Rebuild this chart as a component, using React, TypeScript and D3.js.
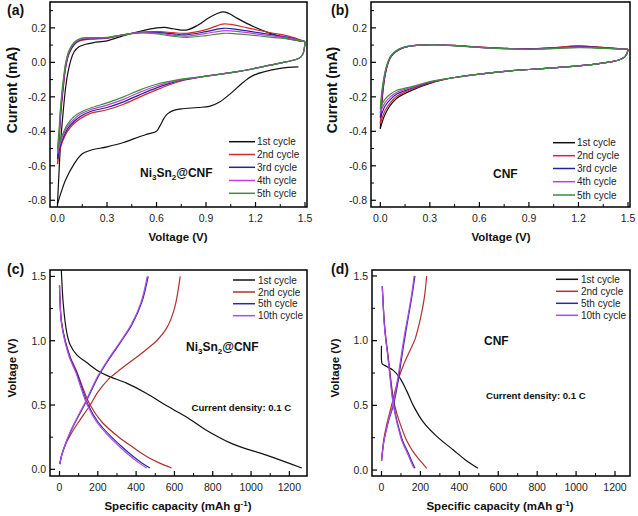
import React from "react";
import * as d3 from "d3";

const FONT = "'Liberation Sans', Arial, Helvetica, sans-serif";

// ---------------- Panel (a): CV of Ni3Sn2@CNF ----------------
const A_RED1_V = [1.46, 1.35, 1.19, 1.13, 1.05, 0.985, 0.92, 0.85, 0.75, 0.7, 0.68, 0.66, 0.645, 0.62, 0.6, 0.55, 0.5, 0.4, 0.3, 0.2, 0.15, 0.1, 0.05, 0.02, 0.0];
const A_RED1_I = [-0.026, -0.035, -0.074, -0.112, -0.18, -0.228, -0.255, -0.262, -0.27, -0.28, -0.29, -0.305, -0.325, -0.37, -0.4, -0.415, -0.43, -0.465, -0.49, -0.51, -0.53, -0.59, -0.68, -0.76, -0.82];
const A_OX1_V = [0.0, 0.01, 0.02, 0.035, 0.05, 0.065, 0.08, 0.1, 0.13, 0.17, 0.22, 0.3, 0.4, 0.5, 0.6, 0.65, 0.7, 0.78, 0.85, 0.92, 1.0, 1.04, 1.09, 1.19, 1.29, 1.39, 1.5];
const A_OX1_I = [-0.82, -0.62, -0.45, -0.28, -0.14, -0.05, 0.01, 0.06, 0.09, 0.105, 0.115, 0.125, 0.155, 0.18, 0.2, 0.203, 0.195, 0.187, 0.215, 0.26, 0.293, 0.283, 0.255, 0.206, 0.168, 0.139, 0.12];

const A_RED_V = [1.5, 1.497, 1.49, 1.475, 1.45, 1.39, 1.29, 1.09, 0.88, 0.75, 0.68, 0.6, 0.5, 0.4, 0.3, 0.2, 0.14, 0.1, 0.06, 0.03, 0.01, 0.0];
const A_RED2_I = [0.12, 0.09, 0.055, 0.032, 0.018, 0.004, -0.016, -0.054, -0.083, -0.108, -0.13, -0.16, -0.2, -0.243, -0.275, -0.296, -0.325, -0.355, -0.4, -0.46, -0.53, -0.59];
const A_RED3_I = [0.12, 0.09, 0.055, 0.032, 0.018, 0.004, -0.016, -0.054, -0.083, -0.104, -0.122, -0.148, -0.187, -0.229, -0.262, -0.285, -0.313, -0.343, -0.387, -0.447, -0.51, -0.56];
const A_RED4_I = [0.12, 0.09, 0.055, 0.032, 0.018, 0.004, -0.016, -0.054, -0.083, -0.1, -0.116, -0.137, -0.173, -0.215, -0.248, -0.275, -0.3, -0.33, -0.373, -0.433, -0.49, -0.53];
const A_RED5_I = [0.12, 0.09, 0.055, 0.032, 0.018, 0.004, -0.016, -0.054, -0.083, -0.097, -0.11, -0.127, -0.16, -0.2, -0.235, -0.265, -0.29, -0.315, -0.36, -0.42, -0.47, -0.5];

const A_OX_V = [0.0, 0.01, 0.02, 0.035, 0.05, 0.07, 0.1, 0.13, 0.17, 0.22, 0.3, 0.4, 0.5, 0.62, 0.7, 0.78, 0.9, 1.0, 1.05, 1.15, 1.3, 1.4, 1.5];
const A_OX2_I = [-0.59, -0.45, -0.3, -0.15, -0.03, 0.05, 0.1, 0.122, 0.132, 0.135, 0.14, 0.16, 0.175, 0.178, 0.172, 0.168, 0.19, 0.222, 0.22, 0.2, 0.17, 0.152, 0.12];
const A_OX3_I = [-0.56, -0.43, -0.28, -0.135, -0.02, 0.055, 0.105, 0.127, 0.136, 0.138, 0.142, 0.16, 0.173, 0.172, 0.165, 0.16, 0.178, 0.197, 0.196, 0.182, 0.16, 0.145, 0.12];
const A_OX4_I = [-0.53, -0.41, -0.26, -0.12, -0.01, 0.062, 0.11, 0.131, 0.14, 0.141, 0.143, 0.16, 0.172, 0.168, 0.158, 0.152, 0.168, 0.183, 0.182, 0.172, 0.153, 0.14, 0.12];
const A_OX5_I = [-0.5, -0.38, -0.24, -0.1, 0.0, 0.07, 0.115, 0.135, 0.143, 0.143, 0.145, 0.16, 0.17, 0.163, 0.152, 0.145, 0.155, 0.168, 0.168, 0.16, 0.145, 0.135, 0.12];

// ---------------- Panel (b): CV of CNF ----------------
const B_RED_V = [1.5, 1.495, 1.485, 1.47, 1.44, 1.4, 1.3, 1.2, 1.0, 0.8, 0.6, 0.45, 0.3, 0.2, 0.14, 0.1, 0.06, 0.03, 0.01, 0.0];
const B_RED1_I = [0.075, 0.055, 0.038, 0.025, 0.012, 0.004, -0.01, -0.02, -0.035, -0.048, -0.068, -0.088, -0.122, -0.158, -0.185, -0.208, -0.25, -0.3, -0.35, -0.385];
const B_RED2_I = [0.075, 0.055, 0.038, 0.025, 0.012, 0.004, -0.01, -0.02, -0.035, -0.048, -0.068, -0.088, -0.119, -0.152, -0.177, -0.197, -0.235, -0.278, -0.325, -0.355];
const B_RED3_I = [0.075, 0.055, 0.038, 0.025, 0.012, 0.004, -0.01, -0.02, -0.035, -0.048, -0.068, -0.088, -0.116, -0.146, -0.168, -0.184, -0.216, -0.252, -0.295, -0.32];
const B_RED4_I = [0.075, 0.055, 0.038, 0.025, 0.012, 0.004, -0.01, -0.02, -0.035, -0.048, -0.068, -0.088, -0.114, -0.142, -0.16, -0.173, -0.2, -0.232, -0.268, -0.295];
const B_RED5_I = [0.075, 0.055, 0.038, 0.025, 0.012, 0.004, -0.01, -0.02, -0.035, -0.048, -0.068, -0.088, -0.112, -0.138, -0.152, -0.162, -0.185, -0.212, -0.245, -0.27];

const B_OX_V = [0.0, 0.008, 0.018, 0.03, 0.045, 0.06, 0.08, 0.1, 0.13, 0.17, 0.24, 0.32, 0.45, 0.6, 0.75, 0.9, 1.05, 1.2, 1.3, 1.4, 1.5];
const B_OX1_I = [-0.385, -0.26, -0.15, -0.07, -0.01, 0.025, 0.05, 0.065, 0.08, 0.092, 0.1, 0.102, 0.098, 0.088, 0.081, 0.078, 0.085, 0.094, 0.09, 0.083, 0.075];
const B_OX2_I = [-0.355, -0.24, -0.14, -0.065, -0.008, 0.027, 0.052, 0.066, 0.081, 0.092, 0.1, 0.102, 0.098, 0.088, 0.081, 0.078, 0.085, 0.095, 0.09, 0.083, 0.075];
const B_OX3_I = [-0.32, -0.22, -0.13, -0.06, -0.005, 0.028, 0.053, 0.067, 0.082, 0.093, 0.1, 0.102, 0.097, 0.087, 0.08, 0.077, 0.083, 0.09, 0.087, 0.081, 0.075];
const B_OX4_I = [-0.295, -0.2, -0.12, -0.055, -0.002, 0.03, 0.054, 0.068, 0.083, 0.093, 0.1, 0.101, 0.097, 0.087, 0.08, 0.076, 0.081, 0.088, 0.085, 0.08, 0.075];
const B_OX5_I = [-0.27, -0.18, -0.11, -0.05, 0.0, 0.032, 0.055, 0.07, 0.084, 0.094, 0.1, 0.101, 0.096, 0.086, 0.079, 0.075, 0.079, 0.085, 0.083, 0.079, 0.075];

// ---------------- Panel (c): GCD of Ni3Sn2@CNF ----------------
const C_DIS1_Q = [8, 11, 20, 37, 55, 90, 142, 202, 255, 350, 455, 542, 600, 680, 760, 900, 1080, 1265];
const C_DIS1_V = [1.62, 1.5, 1.28, 1.07, 0.97, 0.89, 0.83, 0.765, 0.725, 0.67, 0.59, 0.51, 0.46, 0.39, 0.31, 0.2, 0.11, 0.01];
const C_DIS_V = [1.43, 1.3, 1.15, 1.0, 0.87, 0.75, 0.62, 0.5, 0.37, 0.25, 0.17, 0.1, 0.05, 0.01];
const C_DIS2_Q = [0, 3, 10, 30, 57, 93, 125, 160, 220, 310, 385, 455, 520, 585];
const C_DIS5_Q = [0, 3, 10, 29, 55, 90, 120, 150, 200, 272, 330, 385, 430, 472];
const C_DIS10_Q = [0, 3, 9, 27, 52, 86, 115, 145, 193, 262, 318, 372, 415, 455];
const C_CH2_Q = [2, 8, 20, 40, 70, 110, 160, 200, 255, 320, 400, 460, 507, 560, 600, 630];
const C_CH2_V = [0.04, 0.09, 0.15, 0.22, 0.3, 0.39, 0.5, 0.6, 0.7, 0.78, 0.87, 0.94, 1.0, 1.1, 1.25, 1.5];
const C_CH_V = [0.04, 0.09, 0.15, 0.23, 0.33, 0.43, 0.53, 0.72, 0.86, 0.99, 1.13, 1.3, 1.5];
const C_CH5_Q = [2, 8, 20, 40, 70, 105, 140, 202, 260, 320, 380, 430, 463];
const C_CH10_Q = [2, 8, 20, 39, 68, 102, 137, 198, 256, 316, 376, 426, 458];

// ---------------- Panel (d): GCD of CNF ----------------
const D_DIS1_Q = [0, 0.5, 4, 27, 61, 95, 130, 163, 215, 284, 369, 430, 496];
const D_DIS1_V = [0.96, 0.84, 0.82, 0.8, 0.77, 0.71, 0.61, 0.5, 0.37, 0.26, 0.155, 0.08, 0.013];
const D_DIS_V = [1.42, 1.3, 1.15, 1.02, 0.87, 0.7, 0.55, 0.43, 0.32, 0.22, 0.14, 0.07, 0.013];
const D_DIS2_Q = [4, 8, 14, 22, 35, 48, 61, 80, 105, 132, 163, 200, 232];
const D_DIS5_Q = [4, 8, 14, 22, 34, 46, 58, 72, 90, 110, 135, 155, 172];
const D_DIS10_Q = [4, 8, 13, 21, 33, 45, 56, 70, 87, 106, 130, 150, 167];
const D_CH_V = [0.07, 0.14, 0.22, 0.31, 0.4, 0.5, 0.64, 0.78, 0.93, 1.07, 1.2, 1.35, 1.5];
const D_CH5_Q = [0, 5, 12, 25, 40, 61, 80, 95, 110, 125, 140, 157, 172];
const D_CH10_Q = [0, 5, 12, 24, 38, 58, 76, 91, 106, 121, 137, 154, 168];
const D_CH2_Q = [0, 5, 12, 25, 40, 60, 86, 115, 145, 172, 200, 220, 232];
const D_CH2_V = [0.07, 0.15, 0.24, 0.34, 0.43, 0.55, 0.7, 0.82, 0.92, 1.01, 1.17, 1.33, 1.5];

// ---------------- ticks / labels ----------------
const CV_X_MAJ = [0, 0.3, 0.6, 0.9, 1.2, 1.5];
const CV_X_MIN = [0.15, 0.45, 0.75, 1.05, 1.35];
const CV_Y_MAJ = [-0.8, -0.6, -0.4, -0.2, 0.0, 0.2];
const CV_Y_MIN = [-0.7, -0.5, -0.3, -0.1, 0.1, 0.3];
const GC_X_MAJ = [0, 200, 400, 600, 800, 1000, 1200];
const GC_X_MIN = [100, 300, 500, 700, 900, 1100];
const GC_Y_MAJ = [0, 0.5, 1.0, 1.5];
const GC_Y_MIN = [0.25, 0.75, 1.25];
const CV_LEGEND = ["1st cycle", "2nd cycle", "3rd cycle", "4th cycle", "5th cycle"];
const GC_LEGEND = ["1st cycle", "2nd cycle", "5th cycle", "10th cycle"];

const CV_COLORS = ["#111111", "#d42a2a", "#22229c", "#c43ce0", "#3d8f3d"];
const GC_COLORS = ["#111111", "#b3302b", "#2b2b9e", "#b04ae8"];

type Curve = { x: number[]; y: number[]; color: string };

const f1 = (v: number) => (Math.abs(v) < 1e-9 ? "0.0" : v.toFixed(1));
const f0 = (v: number) => String(Math.round(v));

interface PanelProps {
  id: string;
  frame: [number, number, number, number];
  xd: [number, number];
  yd: [number, number];
  xMaj: number[];
  xMin: number[];
  yMaj: number[];
  yMin: number[];
  xFmt: (v: number) => string;
  yFmt: (v: number) => string;
  curves: Curve[];
  legend: { lx0: number; lx1: number; tx: number; ys: number[]; labels: string[]; colors: string[] };
  xLabOff: number;
}

function Panel(p: PanelProps) {
  const [x0, x1, y0, y1] = p.frame;
  const xs = d3.scaleLinear().domain(p.xd).range([x0, x1]);
  const ys = d3.scaleLinear().domain(p.yd).range([y1, y0]);
  const line = d3
    .line<[number, number]>()
    .x((d) => xs(d[0]))
    .y((d) => ys(d[1]))
    .curve(d3.curveCatmullRom.alpha(0.5));
  return (
    <g>
      <defs>
        <clipPath id={p.id}>
          <rect x={x0} y={y0} width={x1 - x0} height={y1 - y0} />
        </clipPath>
      </defs>
      <g clipPath={`url(#${p.id})`}>
        {p.curves.map((c, i) => (
          <path
            key={i}
            d={line(c.x.map((v, k) => [v, c.y[k]] as [number, number])) || ""}
            fill="none"
            stroke={c.color}
            strokeWidth={1.2}
            strokeLinejoin="round"
          />
        ))}
      </g>
      <rect x={x0} y={y0} width={x1 - x0} height={y1 - y0} fill="none" stroke="#000" strokeWidth={1.5} />
      {p.xMaj.map((v) => (
        <line key={"xM" + v} x1={xs(v)} x2={xs(v)} y1={y1} y2={y1 - 5} stroke="#000" strokeWidth={1.2} />
      ))}
      {p.xMin.map((v) => (
        <line key={"xm" + v} x1={xs(v)} x2={xs(v)} y1={y1} y2={y1 - 3} stroke="#000" strokeWidth={1} />
      ))}
      {p.yMaj.map((v) => (
        <line key={"yM" + v} x1={x0} x2={x0 + 5} y1={ys(v)} y2={ys(v)} stroke="#000" strokeWidth={1.2} />
      ))}
      {p.yMin.map((v) => (
        <line key={"ym" + v} x1={x0} x2={x0 + 3} y1={ys(v)} y2={ys(v)} stroke="#000" strokeWidth={1} />
      ))}
      {p.xMaj.map((v) => (
        <text key={"xt" + v} x={xs(v)} y={y1 + p.xLabOff} textAnchor="middle" fontSize={10.5} fontFamily={FONT} fill="#222">
          {p.xFmt(v)}
        </text>
      ))}
      {p.yMaj.map((v) => (
        <text key={"yt" + v} x={x0 - 4} y={ys(v)} dy="0.36em" textAnchor="end" fontSize={10.5} fontFamily={FONT} fill="#222">
          {p.yFmt(v)}
        </text>
      ))}
      {p.legend.labels.map((lab, i) => (
        <g key={"lg" + i}>
          <line x1={p.legend.lx0} x2={p.legend.lx1} y1={p.legend.ys[i]} y2={p.legend.ys[i]} stroke={p.legend.colors[i]} strokeWidth={1.5} />
          <text x={p.legend.tx} y={p.legend.ys[i]} dy="0.36em" fontSize={10} fontFamily={FONT} fill="#222">
            {lab}
          </text>
        </g>
      ))}
    </g>
  );
}

function mk(x: number[], y: number[], color: string): Curve {
  return { x, y, color };
}

export default function App() {
  const aCurves: Curve[] = [
    mk(A_RED1_V, A_RED1_I, CV_COLORS[0]),
    mk(A_OX1_V, A_OX1_I, CV_COLORS[0]),
    mk(A_RED_V, A_RED2_I, CV_COLORS[1]),
    mk(A_OX_V, A_OX2_I, CV_COLORS[1]),
    mk(A_RED_V, A_RED3_I, CV_COLORS[2]),
    mk(A_OX_V, A_OX3_I, CV_COLORS[2]),
    mk(A_RED_V, A_RED4_I, CV_COLORS[3]),
    mk(A_OX_V, A_OX4_I, CV_COLORS[3]),
    mk(A_RED_V, A_RED5_I, CV_COLORS[4]),
    mk(A_OX_V, A_OX5_I, CV_COLORS[4]),
  ];
  const bCurves: Curve[] = [
    mk(B_RED_V, B_RED1_I, CV_COLORS[0]),
    mk(B_OX_V, B_OX1_I, CV_COLORS[0]),
    mk(B_RED_V, B_RED2_I, CV_COLORS[1]),
    mk(B_OX_V, B_OX2_I, CV_COLORS[1]),
    mk(B_RED_V, B_RED3_I, CV_COLORS[2]),
    mk(B_OX_V, B_OX3_I, CV_COLORS[2]),
    mk(B_RED_V, B_RED4_I, CV_COLORS[3]),
    mk(B_OX_V, B_OX4_I, CV_COLORS[3]),
    mk(B_RED_V, B_RED5_I, CV_COLORS[4]),
    mk(B_OX_V, B_OX5_I, CV_COLORS[4]),
  ];
  const cCurves: Curve[] = [
    mk(C_DIS1_Q, C_DIS1_V, GC_COLORS[0]),
    mk(C_DIS2_Q, C_DIS_V, GC_COLORS[1]),
    mk(C_CH2_Q, C_CH2_V, GC_COLORS[1]),
    mk(C_DIS5_Q, C_DIS_V, GC_COLORS[2]),
    mk(C_CH5_Q, C_CH_V, GC_COLORS[2]),
    mk(C_DIS10_Q, C_DIS_V, GC_COLORS[3]),
    mk(C_CH10_Q, C_CH_V, GC_COLORS[3]),
  ];
  const dCurves: Curve[] = [
    mk(D_DIS1_Q, D_DIS1_V, GC_COLORS[0]),
    mk(D_DIS2_Q, D_DIS_V, GC_COLORS[1]),
    mk(D_CH2_Q, D_CH2_V, GC_COLORS[1]),
    mk(D_DIS5_Q, D_DIS_V, GC_COLORS[2]),
    mk(D_CH5_Q, D_CH_V, GC_COLORS[2]),
    mk(D_DIS10_Q, D_DIS_V, GC_COLORS[3]),
    mk(D_CH10_Q, D_CH_V, GC_COLORS[3]),
  ];

  const bold = { fontFamily: FONT, fontWeight: 700 as const, fill: "#111" };

  return (
    <svg width={638} height={516} style={{ position: "fixed", left: 0, top: 0, background: "#fff" }}>
      <rect x={0} y={0} width={638} height={516} fill="#fff" />
      <Panel
        id="clipA"
        frame={[50, 307, 2, 207]}
        xd={[-0.0455, 1.512]}
        yd={[-0.839, 0.35]}
        xMaj={CV_X_MAJ}
        xMin={CV_X_MIN}
        yMaj={CV_Y_MAJ}
        yMin={CV_Y_MIN}
        xFmt={f1}
        yFmt={f1}
        curves={aCurves}
        legend={{ lx0: 229, lx1: 255, tx: 257, ys: [141.7, 154.5, 167.3, 180.5, 193.3], labels: CV_LEGEND, colors: CV_COLORS }}
        xLabOff={15}
      />
      <Panel
        id="clipB"
        frame={[371, 630, 2, 207]}
        xd={[-0.0563, 1.512]}
        yd={[-0.839, 0.35]}
        xMaj={CV_X_MAJ}
        xMin={CV_X_MIN}
        yMaj={CV_Y_MAJ}
        yMin={CV_Y_MIN}
        xFmt={f1}
        yFmt={f1}
        curves={bCurves}
        legend={{ lx0: 553, lx1: 575, tx: 577, ys: [142.7, 155.7, 168.5, 181.7, 195], labels: CV_LEGEND, colors: CV_COLORS }}
        xLabOff={15}
      />
      <Panel
        id="clipC"
        frame={[50, 307, 270, 476]}
        xd={[-49.6, 1292]}
        yd={[-0.052, 1.55]}
        xMaj={GC_X_MAJ}
        xMin={GC_X_MIN}
        yMaj={GC_Y_MAJ}
        yMin={GC_Y_MIN}
        xFmt={f0}
        yFmt={f1}
        curves={cCurves}
        legend={{ lx0: 233, lx1: 255, tx: 258, ys: [280, 292, 303.7, 315.7], labels: GC_LEGEND, colors: GC_COLORS }}
        xLabOff={14.5}
      />
      <Panel
        id="clipD"
        frame={[372, 630, 270, 476]}
        xd={[-48.8, 1277]}
        yd={[-0.046, 1.546]}
        xMaj={GC_X_MAJ}
        xMin={GC_X_MIN}
        yMaj={GC_Y_MAJ}
        yMin={GC_Y_MIN}
        xFmt={f0}
        yFmt={f1}
        curves={dCurves}
        legend={{ lx0: 556, lx1: 578, tx: 581, ys: [279.3, 291.3, 303.3, 315.3], labels: GC_LEGEND, colors: GC_COLORS }}
        xLabOff={14.5}
      />

      {/* panel letters */}
      <text x={7} y={15} fontSize={14} {...bold}>(a)</text>
      <text x={331} y={15} fontSize={14} {...bold}>(b)</text>
      <text x={7} y={274} fontSize={14} {...bold}>(c)</text>
      <text x={331} y={274} fontSize={14} {...bold}>(d)</text>

      {/* axis titles */}
      <text transform="translate(17,90) rotate(-90)" textAnchor="middle" fontSize={14} {...bold}>Current (mA)</text>
      <text transform="translate(337,90) rotate(-90)" textAnchor="middle" fontSize={14} {...bold}>Current (mA)</text>
      <text x={178} y={241} textAnchor="middle" fontSize={11.5} {...bold}>Voltage (V)</text>
      <text x={501} y={241} textAnchor="middle" fontSize={11.5} {...bold}>Voltage (V)</text>
      <text transform="translate(16,368) rotate(-90)" textAnchor="middle" fontSize={11.5} {...bold}>Voltage (V)</text>
      <text transform="translate(339,368) rotate(-90)" textAnchor="middle" fontSize={11.5} {...bold}>Voltage (V)</text>
      <text x={178} y={510} textAnchor="middle" fontSize={11.5} {...bold}>
        Specific capacity (mAh g<tspan dy={-4.5} fontSize={8}>-1</tspan><tspan dy={4.5}>)</tspan>
      </text>
      <text x={500} y={510} textAnchor="middle" fontSize={11.5} {...bold}>
        Specific capacity (mAh g<tspan dy={-4.5} fontSize={8}>-1</tspan><tspan dy={4.5}>)</tspan>
      </text>

      {/* annotations */}
      <text x={140} y={177} fontSize={12} {...bold}>
        Ni<tspan dy={3} fontSize={8}>3</tspan><tspan dy={-3}>Sn</tspan><tspan dy={3} fontSize={8}>2</tspan><tspan dy={-3}>@CNF</tspan>
      </text>
      <text x={493} y={178} fontSize={12} {...bold}>CNF</text>
      <text x={186} y={351} fontSize={12} {...bold}>
        Ni<tspan dy={3} fontSize={8}>3</tspan><tspan dy={-3}>Sn</tspan><tspan dy={3} fontSize={8}>2</tspan><tspan dy={-3}>@CNF</tspan>
      </text>
      <text x={191.5} y={411} fontSize={9.6} {...bold}>Current density: 0.1 C</text>
      <text x={484} y={345} fontSize={12} {...bold}>CNF</text>
      <text x={486} y={399} fontSize={9.6} {...bold}>Current density: 0.1 C</text>
    </svg>
  );
}
